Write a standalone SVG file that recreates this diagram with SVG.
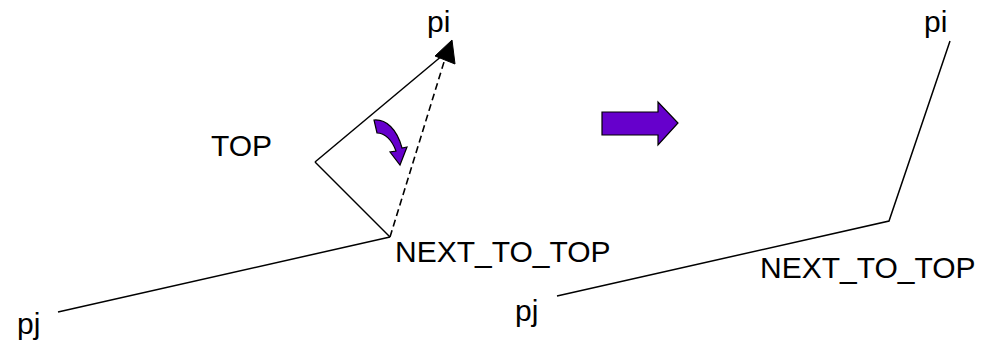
<svg xmlns="http://www.w3.org/2000/svg" width="1002" height="342" viewBox="0 0 1002 342">
<style>
.ln{stroke:#000;stroke-width:1.5;fill:none}
.dash{stroke-dasharray:7 4;stroke-width:1.6}
.lbl{font-family:"Liberation Sans",Arial,sans-serif;font-size:30px;fill:#000}
.purple{fill:#6600CC;stroke:#000;stroke-width:1.2;stroke-linejoin:miter}
</style>
<rect width="1002" height="342" fill="#fff"/>
<g id="connectors">
<line class="ln" x1="58" y1="312" x2="390" y2="237"/>
<line class="ln" x1="390" y1="237" x2="315" y2="162"/>
<line class="ln" x1="315" y1="162" x2="443" y2="55"/>
<line class="ln dash" x1="390" y1="237" x2="444" y2="62"/>
<polygon points="452,40 455,64 435,56" fill="#000" stroke="#000" stroke-width="1"/>
<polyline class="ln" points="557,296 889,221 950,41"/>
</g>
<g id="rotate-arrow">
<path class="purple" d="M374,120 C386,119 397,129 402,148 L407,147 L400,165 L390,152 L396,151 C392,140 385,133 377,133 Z"/>
</g>
<g id="transform-arrow">
<polygon class="purple" points="602,112 658,112 658,102 678,123 658,145 658,135 602,135"/>
</g>
<g id="label-pi-left"><text class="lbl" x="427" y="32">pi</text></g>
<g id="label-top"><text class="lbl" x="211" y="156">TOP</text></g>
<g id="label-ntt-left"><text class="lbl" x="395" y="262">NEXT_TO_TOP</text></g>
<g id="label-pj-left"><text class="lbl" x="17" y="334">pj</text></g>
<g id="label-pi-right"><text class="lbl" x="924" y="32">pi</text></g>
<g id="label-ntt-right"><text class="lbl" x="760" y="278">NEXT_TO_TOP</text></g>
<g id="label-pj-right"><text class="lbl" x="515" y="321">pj</text></g>
</svg>
